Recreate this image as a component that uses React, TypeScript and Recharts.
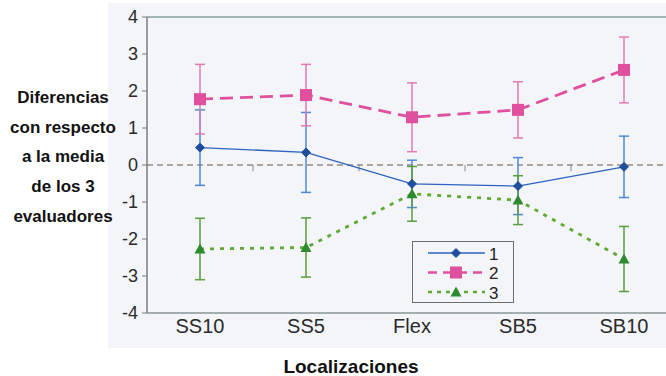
import React from "react";
import { LineChart, Line, XAxis, YAxis, ErrorBar, ReferenceLine } from "recharts";

const categories = ["SS10", "SS5", "Flex", "SB5", "SB10"];
const yTicks = [-4, -3, -2, -1, 0, 1, 2, 3, 4];
const seriesNames = ["1", "2", "3"];

const s1 = [0.47, 0.34, -0.51, -0.57, -0.05];
const e1 = [1.02, 1.08, 0.64, 0.77, 0.83];
const s2 = [1.78, 1.89, 1.29, 1.49, 2.57];
const e2 = [0.94, 0.83, 0.93, 0.76, 0.89];
const s3 = [-2.27, -2.23, -0.78, -0.95, -2.54];
const e3 = [0.83, 0.8, 0.74, 0.66, 0.88];
const midTicks = [0.5, 1.5, 2.5, 3.5];

const data = categories.map((c, i) => ({
  idx: i,
  name: c,
  s1: s1[i],
  e1: e1[i],
  s2: s2[i],
  e2: e2[i],
  s3: s3[i],
  e3: e3[i],
}));

const BLUE = "#2d62c0";
const BLUE_DOT = "#1f4e9f";
const BLUE_ERR = "#5088d6";
const PINK = "#e0509e";
const PINK_ERR = "#e27ab4";
const GREEN_LINE = "#5fa832";
const GREEN_DOT = "#2f8a2f";
const GREEN_ERR = "#5a9e3e";
const BG = "#f3f5f8";
const FONT = "'Liberation Sans', Arial, sans-serif";

const Diamond = (props: any) => {
  const { cx, cy } = props;
  if (cx == null || cy == null) return null;
  const r = 4.5;
  return (
    <polygon
      points={`${cx},${cy - r} ${cx + r},${cy} ${cx},${cy + r} ${cx - r},${cy}`}
      fill={BLUE_DOT}
      stroke={BLUE_DOT}
    />
  );
};
const Square = (props: any) => {
  const { cx, cy } = props;
  if (cx == null || cy == null) return null;
  const r = 6;
  return <rect x={cx - r} y={cy - r} width={2 * r} height={2 * r} fill={PINK} />;
};
const Triangle = (props: any) => {
  const { cx, cy } = props;
  if (cx == null || cy == null) return null;
  const r = 5.5;
  return (
    <polygon
      points={`${cx},${cy - r} ${cx + r},${cy + r * 0.8} ${cx - r},${cy + r * 0.8}`}
      fill={GREEN_DOT}
    />
  );
};

const legendStyles = [
  { stroke: BLUE, dash: undefined as string | undefined, width: 1.5, marker: "d" },
  { stroke: PINK, dash: "9 6", width: 2.5, marker: "s" },
  { stroke: GREEN_LINE, dash: "4 5", width: 2.5, marker: "t" },
];

function LegendBox() {
  return (
    <div
      style={{
        position: "absolute",
        left: 412,
        top: 241,
        width: 100,
        height: 60,
        border: "1.5px solid #6d6d6d",
        background: BG,
        fontFamily: FONT,
      }}
    >
      <svg width={100} height={60} style={{ position: "absolute", left: 0, top: 0 }}>
        {seriesNames.map((n, i) => {
          const st = legendStyles[i];
          const cy = 11 + i * 19.5;
          return (
            <g key={n}>
              <line x1={15} y1={cy} x2={72} y2={cy} stroke={st.stroke} strokeWidth={st.width} strokeDasharray={st.dash} />
              {st.marker === "d" && <Diamond cx={43} cy={cy} />}
              {st.marker === "s" && <Square cx={43} cy={cy} />}
              {st.marker === "t" && <Triangle cx={43} cy={cy} />}
              <text x={76} y={cy + 6.5} fontSize={17} fill="#222" fontFamily={FONT}>
                {n}
              </text>
            </g>
          );
        })}
      </svg>
    </div>
  );
}

const yLabelLines = ["Diferencias", "con respecto", "a la media", "de los 3", "evaluadores"];

export default function App() {
  return (
    <div
      style={{
        position: "absolute",
        left: 0,
        top: 0,
        width: 666,
        height: 376,
        overflow: "hidden",
        background: "#ffffff",
        fontFamily: FONT,
      }}
    >
      <div style={{ position: "absolute", left: 108, top: 3, width: 558, height: 345, background: BG }} />
      <div style={{ position: "absolute", left: 0, top: 0 }}>
        <LineChart
          width={700}
          height={376}
          data={data}
          margin={{ top: 17, right: 23, bottom: 28, left: 107 }}
        >
          <XAxis
            type="number"
            dataKey="idx"
            domain={[-0.5, 4.5]}
            ticks={[0, 1, 2, 3, 4]}
            tickFormatter={(v: number) => categories[v]}
            tickLine={false}
            tickMargin={0}
            axisLine={{ stroke: "#8a9494", strokeWidth: 1.5 }}
            tick={{ fill: "#2a2a2a", fontSize: 20, fontFamily: FONT }}
            height={35}
          />
          <YAxis
            type="number"
            domain={[-4, 4]}
            ticks={yTicks}
            width={40}
            tickSize={5}
            tickMargin={4}
            interval={0}
            axisLine={{ stroke: "#7c7c7c", strokeWidth: 1.5 }}
            tickLine={{ stroke: "#7c7c7c" }}
            tick={{ fill: "#2a2a2a", fontSize: 18, fontFamily: FONT }}
          />
          <ReferenceLine y={4} stroke="#8a9e9e" strokeWidth={1.5} />
          <ReferenceLine y={0} stroke="#978b80" strokeWidth={1.3} strokeDasharray="6 4" />
          {midTicks.map((m) => (
            <ReferenceLine
              key={m}
              segment={[
                { x: m, y: 0 },
                { x: m, y: -0.17 },
              ]}
              stroke="#8a8a8a"
              strokeWidth={1}
            />
          ))}
          <Line
            dataKey="s1"
            stroke={BLUE}
            strokeWidth={1.4}
            dot={<Diamond />}
            activeDot={false}
            isAnimationActive={false}
          >
            <ErrorBar dataKey="e1" width={5} stroke={BLUE_ERR} strokeWidth={1.5} direction="y" />
          </Line>
          <Line
            dataKey="s2"
            stroke={PINK}
            strokeWidth={2.8}
            strokeDasharray="13 7"
            dot={<Square />}
            activeDot={false}
            isAnimationActive={false}
          >
            <ErrorBar dataKey="e2" width={5} stroke={PINK_ERR} strokeWidth={1.5} direction="y" />
          </Line>
          <Line
            dataKey="s3"
            stroke={GREEN_LINE}
            strokeWidth={2.8}
            strokeDasharray="4 6"
            dot={<Triangle />}
            activeDot={false}
            isAnimationActive={false}
          >
            <ErrorBar dataKey="e3" width={5} stroke={GREEN_ERR} strokeWidth={1.5} direction="y" />
          </Line>
        </LineChart>
      </div>
      <LegendBox />
      <div
        style={{
          position: "absolute",
          left: 0,
          top: 83,
          width: 126,
          textAlign: "center",
          fontWeight: "bold",
          fontSize: 17,
          lineHeight: "29.7px",
          color: "#111",
        }}
      >
        {yLabelLines.map((l) => (
          <div key={l}>{l}</div>
        ))}
      </div>
      <div
        style={{
          position: "absolute",
          left: 251,
          top: 355,
          width: 200,
          textAlign: "center",
          fontWeight: "bold",
          fontSize: 19,
          lineHeight: "24px",
          color: "#111",
        }}
      >
        Localizaciones
      </div>
    </div>
  );
}
